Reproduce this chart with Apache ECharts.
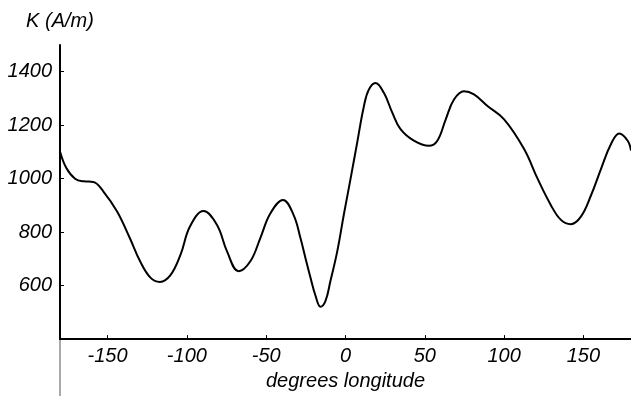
<!DOCTYPE html>
<html>
<head>
<meta charset="utf-8">
<script src="https://cdn.jsdelivr.net/npm/echarts@6/dist/echarts.min.js"></script>
<style>
  html, body { margin: 0; padding: 0; background: #fff; }
  #chart { width: 631px; height: 396px; }
</style>
</head>
<body>
<div id="chart"></div>
<script>
// Longitude samples (degrees) and field strength K (A/m)
const longitude = [
  -180, -176, -170.5, -165, -159, -152.5, -144, -136, -129.5, -123,
  -117, -110.5, -104, -98, -89.5, -81, -74.7, -67.4, -60, -53.7,
  -47.4, -39.4, -32.7, -28.4, -25.3, -22.1, -18.9, -15.8, -12.6, -9.5,
  -5.2, -1.1, 3.2, 7.4, 11.6, 14.7, 18.9, 24.2, 29.5, 34.7,
  43.1, 52.6, 57.9, 63.2, 68.4, 74.7, 81, 89.5, 100, 112.6,
  121.1, 129.5, 135.8, 142.1, 148.4, 154.8, 161.1, 167.4, 172.6, 177.9,
  180
];
const kValues = [
  1102, 1040, 1000, 990, 988, 951, 877, 778, 691, 630,
  614, 638, 716, 822, 879, 827, 728, 654, 691, 778,
  870, 920, 864, 778, 704, 630, 562, 521, 543, 617,
  728, 864, 1000, 1136, 1271, 1333, 1358, 1321, 1247, 1185,
  1142, 1123, 1142, 1222, 1296, 1327, 1315, 1272, 1222, 1111,
  1000, 901, 846, 830, 858, 938, 1037, 1130, 1169, 1142,
  1105
];
const xTicks = [-150, -100, -50, 0, 50, 100, 150];
const yTicks = [600, 800, 1000, 1200, 1400];

const font = '"Liberation Sans", Arial, Helvetica, sans-serif';
const labelStyle = { fontFamily: font, fontStyle: 'italic', fontSize: 20, color: '#000' };
const chart = echarts.init(document.getElementById('chart'), null, { renderer: 'canvas' });

chart.setOption({
  animation: false,
  backgroundColor: '#fff',
  grid: { left: 60, right: 0, top: 45, bottom: 54 },
  xAxis: {
    type: 'value',
    min: -180,
    max: 180,
    name: 'degrees longitude',
    nameLocation: 'middle',
    nameGap: 30,
    nameTextStyle: labelStyle,
    axisLine: { onZero: false, lineStyle: { color: '#000', width: 2 } },
    axisTick: { show: true, inside: true, length: 4, customValues: xTicks, lineStyle: { color: '#000', width: 1 } },
    axisLabel: Object.assign({ customValues: xTicks, margin: 7, formatter: v => String(v) }, labelStyle),
    splitLine: { show: false }
  },
  yAxis: {
    type: 'value',
    min: 400,
    max: 1500,
    name: 'K (A/m)',
    nameLocation: 'end',
    nameGap: 14,
    nameTextStyle: labelStyle,
    axisLine: { show: true, onZero: false, lineStyle: { color: '#000', width: 2 } },
    axisTick: { show: true, inside: true, length: 4, customValues: yTicks, lineStyle: { color: '#000', width: 1 } },
    axisLabel: Object.assign({ customValues: yTicks, margin: 8, formatter: v => String(v) }, labelStyle),
    splitLine: { show: false }
  },
  series: [{
    type: 'line',
    data: longitude.map((x, i) => [x, kValues[i]]),
    smooth: 0.4,
    showSymbol: false,
    lineStyle: { color: '#000', width: 2 }
  }]
});

// Continue the vertical axis below the horizontal axis as a thin rule
const base = chart.convertToPixel({ gridIndex: 0 }, [-180, 400]);
chart.setOption({
  graphic: [{
    type: 'line',
    shape: { x1: base[0], y1: base[1], x2: base[0], y2: 396 },
    style: { stroke: '#555', lineWidth: 1 }
  }]
});
</script>
</body>
</html>
